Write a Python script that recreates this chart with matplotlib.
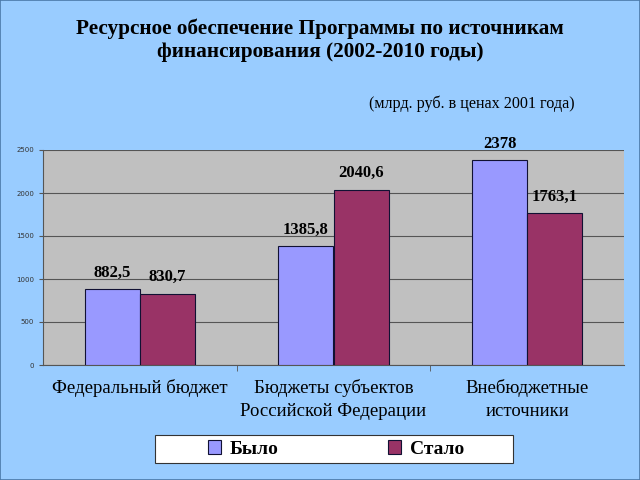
import matplotlib
matplotlib.use('Agg')
import matplotlib.pyplot as plt
from matplotlib.patches import Rectangle
import numpy as np

# Data
categories = ['Федеральный бюджет', 'Бюджеты субъектов\nРоссийской Федерации', 'Внебюджетные\nисточники']
bylo = [882.5, 1385.8, 2378]
stalo = [830.7, 2040.6, 1763.1]
bylo_labels = ['882,5', '1385,8', '2378']
stalo_labels = ['830,7', '2040,6', '1763,1']
yticks = [0, 500, 1000, 1500, 2000, 2500]

serif = ['Liberation Serif', 'DejaVu Serif']

fig = plt.figure(figsize=(6.4, 4.8), dpi=100, facecolor='#99CCFF')
fig.patches.append(Rectangle((0, 0), 1, 1, transform=fig.transFigure, fill=False,
                             edgecolor='#4A78A8', linewidth=1.2))
ax = fig.add_axes([43 / 640, 1 - 365 / 480, 581 / 640, 215 / 480])
ax.set_facecolor('#C0C0C0')

x = np.arange(len(categories))
w = 0.285
b1 = ax.bar(x - w / 2, bylo, w, color='#9999FF', edgecolor='#111133', linewidth=0.8, label='Было', zorder=3)
b2 = ax.bar(x + w / 2, stalo, w, color='#993366', edgecolor='#111133', linewidth=0.8, label='Стало', zorder=3)

for bars, labs in ((b1, bylo_labels), (b2, stalo_labels)):
    for r, t in zip(bars, labs):
        ax.annotate(t, (r.get_x() + r.get_width() / 2, r.get_height()),
                    xytext=(0, 6), textcoords='offset points', ha='center', va='bottom',
                    fontsize=12, fontweight='bold', family=serif)

ax.set_xlim(-0.5, 2.5)
ax.set_ylim(0, 2500)
ax.set_yticks(yticks)
ax.set_yticklabels([str(v) for v in yticks], fontsize=5, color='#333333')
ax.yaxis.grid(True, color='#555555', linewidth=0.8, zorder=0)
ax.set_xticks(x)
ax.set_xticklabels(categories, fontsize=13.5, family=serif, linespacing=1.5, va='top')
ax.tick_params(axis='x', length=0, pad=10)
ax.set_xticks([0.5, 1.5], minor=True)
ax.tick_params(axis='x', which='minor', length=4, color='#555555')
ax.tick_params(axis='y', length=3, color='#555555')
for s in ('top', 'right'):
    ax.spines[s].set_visible(False)
ax.spines['left'].set_color('#555555')
ax.spines['bottom'].set_color('#555555')

fig.text(0.5, 1 - 29 / 480, 'Ресурсное обеспечение Программы по источникам',
         ha='center', va='center', fontsize=15.3, fontweight='bold', family=serif)
fig.text(0.5, 1 - 52 / 480, 'финансирования (2002-2010 годы)',
         ha='center', va='center', fontsize=15.3, fontweight='bold', family=serif)
fig.text(472 / 640, 1 - 104 / 480, '(млрд. руб. в ценах 2001 года)', ha='center', va='center',
         fontsize=11.6, family=serif)

# legend box
fig.patches.append(Rectangle((155 / 640, 1 - 463 / 480), 358 / 640, 28 / 480,
                             transform=fig.transFigure, facecolor='white',
                             edgecolor='#333333', linewidth=0.8, zorder=1))
leg = fig.legend(handles=[b1, b2], loc='center', bbox_to_anchor=(336 / 640, 1 - 449 / 480),
                 ncol=2, frameon=False,
                 prop={'family': serif, 'weight': 'bold', 'size': 14},
                 handlelength=0.7, handleheight=0.7, handletextpad=0.45, columnspacing=5.6)
leg.set_zorder(5)

fig.savefig('out.png', dpi=100, facecolor=fig.get_facecolor())
